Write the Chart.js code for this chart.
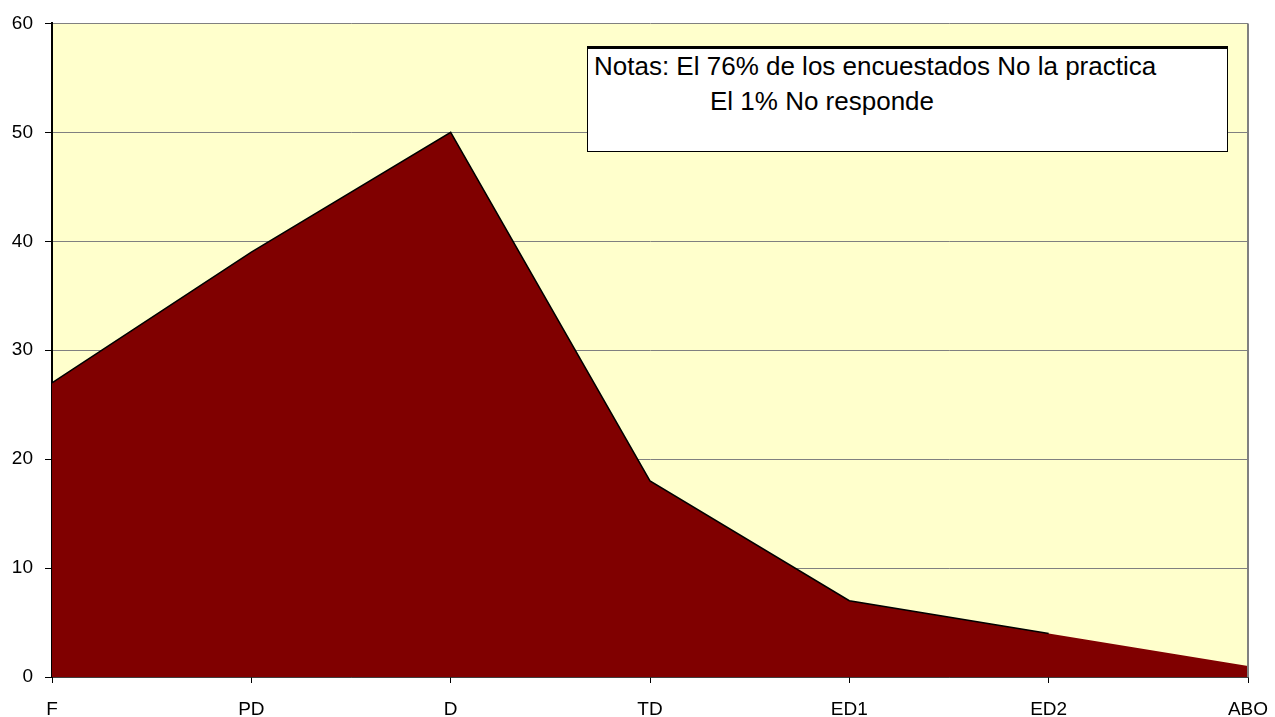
<!DOCTYPE html>
<html>
<head>
<meta charset="utf-8">
<script src="https://cdn.jsdelivr.net/npm/chart.js@4/dist/chart.umd.min.js"></script>
<style>
  html, body { margin: 0; padding: 0; background: #fff; }
  #wrap { position: relative; width: 1275px; height: 717px; }
  #note {
    position: absolute; left: 587px; top: 46px; width: 641px; height: 106px;
    background: #fff; border: 1px solid #000; border-top: 3px solid #000;
    font-family: "Liberation Sans", Arial, sans-serif; font-size: 26px; color: #000;
    box-sizing: border-box;
  }
  #note div { position: absolute; white-space: nowrap; line-height: normal; }
  #note .l1 { left: 6px; top: 2px; }
  #note .l2 { left: 122px; top: 37px; }
</style>
</head>
<body>
<div id="wrap">
  <canvas id="areaChart" width="1275" height="717"></canvas>
  <div id="note">
    <div class="l1">Notas: El 76% de los encuestados No la practica</div>
    <div class="l2">El 1% No responde</div>
  </div>
</div>
<script>
var categories = ['F', 'PD', 'D', 'TD', 'ED1', 'ED2', 'ABO']
var values = [27, 39, 50, 18, 7, 4, 1]
var yTicks = [0, 10, 20, 30, 40, 50, 60]
// the black outline stops at ED2 in the original
var outlineValues = values.slice(0, 6)

// plot background + right border
var plotFrame = {
    id: 'plotFrame',
    beforeDraw: function(chart) {
        var a = chart.chartArea
        var ctx = chart.ctx
        ctx.save()
        ctx.fillStyle = '#FFFFCC'
        ctx.fillRect(a.left, a.top, a.right - a.left, a.bottom - a.top)
        ctx.restore()
    },
    afterDatasetsDraw: function(chart) {
        var a = chart.chartArea
        var ctx = chart.ctx
        ctx.save()
        ctx.strokeStyle = '#808080'
        ctx.lineWidth = 2
        ctx.beginPath()
        ctx.moveTo(a.right, a.top)
        ctx.lineTo(a.right, a.bottom)
        ctx.stroke()
        ctx.restore()
    }
}

var areaChart = new Chart(document.querySelector('#areaChart'), {
    type: 'line',
    data: {
        labels: categories,
        datasets: [{
            data: outlineValues,
            fill: false,
            borderColor: '#000',
            borderWidth: 1.5,
            pointRadius: 0,
            tension: 0,
            order: 0
        }, {
            data: values,
            fill: 'origin',
            backgroundColor: '#800000',
            borderColor: '#800000',
            borderWidth: 0,
            pointRadius: 0,
            tension: 0,
            order: 1
        }]
    },
    options: {
        responsive: false,
        animation: false,
        layout: { padding: { top: 22, right: 27, left: 0, bottom: 0 } },
        plugins: { legend: { display: false }, tooltip: { enabled: false } },
        scales: {
            y: {
                min: 0,
                max: 60,
                afterFit: function(scale) { scale.width = 52 },
                afterBuildTicks: function(scale) { scale.ticks = yTicks.map(v => ({ value: v })) },
                border: { color: '#000', width: 2 },
                grid: { color: '#808080', lineWidth: 1, tickColor: '#000', tickLength: 7 },
                ticks: {
                    color: '#000',
                    padding: 12,
                    font: { family: 'Liberation Sans', size: 19 }
                }
            },
            x: {
                afterFit: function(scale) {
                    scale.height = 40
                    // keep the plot edge fixed, labels may hang over
                    scale.paddingLeft = 0
                    scale.paddingRight = 0
                },
                border: { color: '#000', width: 1.5 },
                grid: { drawOnChartArea: false, tickColor: '#000', tickLength: 6 },
                ticks: {
                    color: '#000',
                    padding: 15,
                    maxRotation: 0,
                    autoSkip: false,
                    font: { family: 'Liberation Sans', size: 19 }
                }
            }
        }
    },
    plugins: [plotFrame]
})
</script>
</body>
</html>
